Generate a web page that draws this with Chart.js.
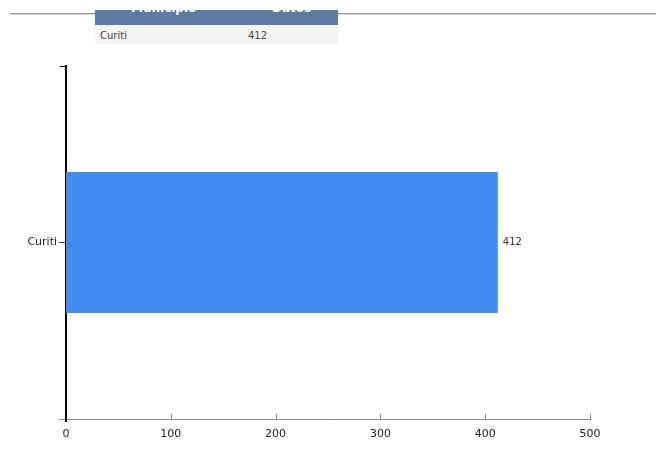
<!DOCTYPE html>
<html>
<head>
<meta charset="utf-8">
<script src="https://cdn.jsdelivr.net/npm/chart.js@4"></script>
<style>
  body { margin: 0; background: #fff; overflow: hidden; font-family: "DejaVu Sans", sans-serif; }
  #wrap { position: absolute; left: 0; top: 0; width: 656px; height: 450px; }
  #topline { position: absolute; left: 10px; top: 13px; width: 646px; height: 0; border-top: 1px solid #9a9a9a; border-bottom: 1px solid #d6d6d6; }
  #tabla { position: absolute; left: 95px; top: 10px; width: 243px; z-index: 2; font-size: 10px; }
  #tabla .head { height: 15px; background: #5b7ca4; color: #fff; font-weight: bold; font-size: 12px; overflow: hidden; position: relative; }
  #tabla .head span { position: absolute; top: -9px; }
  #tabla .row { height: 19px; background: #f4f4f1; color: #444; position: relative; }
  #tabla .row span { position: absolute; top: 5px; }
</style>
</head>
<body>
<div id="topline"></div>
<div id="tabla">
  <div class="head"><span style="left:36px">Municipio</span><span style="left:177px">Datos</span></div>
  <div class="row" id="fila"></div>
</div>
<div id="wrap"><canvas id="chart"></canvas></div>
<script>
// datos del municipio
const municipios = ["Curiti"];
const datos = [412];
const xTicks = [0, 100, 200, 300, 400, 500];

// tabla de arriba
const fila = document.getElementById("fila");
fila.innerHTML = `<span style="left:5px">${municipios[0]}</span><span style="left:153px">${datos[0]}</span>`;

// numeros al final de cada barra + marcas del eje x hacia arriba
const extras = {
  id: "extras",
  afterDatasetsDraw(chart) {
    const ctx = chart.ctx;
    const meta = chart.getDatasetMeta(0);
    ctx.save();
    ctx.font = "10px 'DejaVu Sans'";
    ctx.fillStyle = "#333";
    ctx.textBaseline = "middle";
    meta.data.forEach((bar, i) => {
      ctx.fillText(datos[i], bar.x + 5, bar.y);
    });
    ctx.restore();
  },
  afterDraw(chart) {
    const ctx = chart.ctx;
    const area = chart.chartArea;
    const x = chart.scales.x;
    ctx.save();
    ctx.strokeStyle = "#888";
    ctx.lineWidth = 1;
    ctx.beginPath();
    ctx.moveTo(area.left - 7, area.bottom + 0.5);
    ctx.lineTo(area.left, area.bottom + 0.5);
    xTicks.forEach(v => {
      if (v === 0) return;
      const px = Math.round(x.getPixelForValue(v)) + 0.5;
      ctx.moveTo(px, area.bottom);
      ctx.lineTo(px, area.bottom - 5);
    });
    ctx.stroke();
    // tick de arriba y final del eje y
    ctx.strokeStyle = "#000";
    ctx.beginPath();
    ctx.moveTo(area.left - 6, area.top + 0.5);
    ctx.lineTo(area.left, area.top + 0.5);
    ctx.stroke();
    ctx.lineWidth = 2;
    ctx.beginPath();
    ctx.moveTo(area.left, area.bottom);
    ctx.lineTo(area.left, area.bottom + 3);
    ctx.stroke();
    ctx.restore();
  }
};

new Chart(document.getElementById("chart"), {
  type: "bar",
  data: {
    labels: municipios,
    datasets: [{
      data: datos,
      backgroundColor: "rgb(66,139,240)",
      barPercentage: 0.4,
      categoryPercentage: 1
    }]
  },
  options: {
    indexAxis: "y",
    responsive: true,
    maintainAspectRatio: false,
    animation: false,
    layout: { padding: { top: 66, right: 66, left: 0, bottom: 0 } },
    plugins: { legend: { display: false }, tooltip: { enabled: false } },
    scales: {
      x: {
        min: 0,
        max: 500,
        afterBuildTicks: s => { s.ticks = xTicks.map(v => ({ value: v })); },
        afterFit: s => { s.height = 31; },
        grid: { display: false },
        border: { color: "#888", width: 1 },
        ticks: { padding: 1, color: "#222", font: { family: "DejaVu Sans", size: 11 } }
      },
      y: {
        afterFit: s => { s.width = 66; },
        grid: { offset: false, drawOnChartArea: false, drawTicks: true, tickLength: 7, color: "#444" },
        border: { color: "#000", width: 2 },
        ticks: { padding: 2, color: "#222", font: { family: "DejaVu Sans", size: 11 } }
      }
    }
  },
  plugins: [extras]
});
</script>
</body>
</html>
